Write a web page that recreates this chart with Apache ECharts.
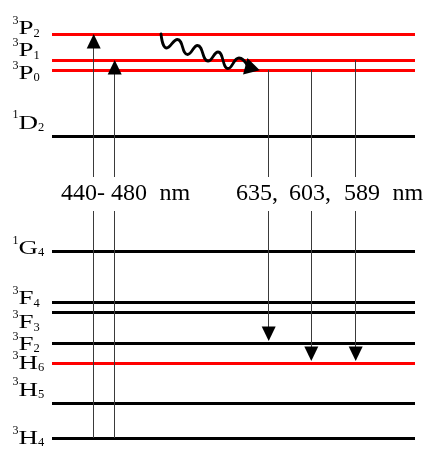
<!DOCTYPE html>
<html><head><meta charset="utf-8">
<script src="https://cdn.jsdelivr.net/npm/echarts@6/dist/echarts.min.js"></script>
<style>html,body{margin:0;padding:0;background:#fff}#c{width:427px;height:452px}</style>
</head><body><div id="c"></div>
<script>
// ---------- DATA (diagram energy units, 3H4 = 0) ----------
const levelTerms  = ['3H4','3H5','3H6','3F2','3F3','3F4','1G4','1D2','3P0','3P1','3P2'];
const levelMult   = ['3','3','3','3','3','3','1','1','3','3','3'];
const levelLetter = ['H','H','H','F','F','F','G','D','P','P','P'];
const levelJ      = ['4','5','6','2','3','4','4','2','0','1','2'];
const levelEnergy = [0, 35, 75, 95, 126, 136, 187, 302, 368, 378, 404];
const redLevels   = ['3H6','3P0','3P1','3P2'];

const absorptions = [['3H4','3P2'], ['3H4','3P1']];
const emissions   = [['3P0','3F2'], ['3P0','3H6'], ['3P1','3H6']];
const absorptionWords = ['440-', '480', 'nm'];
const emissionWords   = ['635,', '603,', '589', 'nm'];

// non-radiative relaxation (wavy arrow) path
const relaxX = [161, 166.7, 177.5, 187.5, 197.5, 208, 218, 228, 239, 248];
const relaxY = [404, 390, 398.5, 383.5, 392.5, 377, 386, 369.5, 380, 371.5];

// ---------- LAYOUT / STYLE ----------
const LX0 = 52, LX1 = 415;
const gapLow = 227, gapHigh = 261;
const absX = [93.7, 114.7];
const emiX = [268.7, 311.3, 355.7];
const headW = 14, headH = 14.5;
const emiTipOffset = 2;
const labelX = 12.5;
const labelDy = [1.2, -12.2, 1.2, 2.3, 11.6, -2.5, -2.1, -12.2, 4.3, -8.3, -4.5];
const absWordX = [61, 111, 159.5];
const emiWordX = [236, 289, 344, 392.5];
const relaxHead = {x: 252.5, y: 369.8, rot: -105};
const FAMILY = 'Liberation Serif';
const letterScale = 1.5;

const E = {};
levelTerms.forEach((t, i) => E[t] = levelEnergy[i]);

const levelLines = levelTerms.map((t, i) => ({
  coords: [[LX0, levelEnergy[i]], [LX1, levelEnergy[i]]],
  lineStyle: {color: redLevels.includes(t) ? '#ff0000' : '#000000'}
}));

function shaft(x, a, b) {
  const lo = Math.min(a, b), hi = Math.max(a, b), segs = [];
  if (lo < gapLow) segs.push({coords: [[x, lo], [x, Math.min(hi, gapLow)]]});
  if (hi > gapHigh) segs.push({coords: [[x, Math.max(lo, gapHigh)], [x, hi]]});
  return segs;
}
let shafts = [];
const upHeads = [], downHeads = [];
absorptions.forEach((tr, i) => {
  const tip = E[tr[1]];
  shafts = shafts.concat(shaft(absX[i], E[tr[0]], tip - headH / 2));
  upHeads.push([absX[i], tip - headH / 2]);
});
emissions.forEach((tr, i) => {
  const tip = E[tr[1]] + emiTipOffset;
  shafts = shafts.concat(shaft(emiX[i], E[tr[0]], tip + headH / 2));
  downHeads.push([emiX[i], tip + headH / 2]);
});

const chart = echarts.init(document.getElementById('c'), null, {renderer: 'canvas'});
chart.setOption({
  animation: false,
  backgroundColor: '#ffffff',
  grid: {left: 0, right: 0, top: 0, bottom: 0},
  xAxis: {type: 'value', min: 0, max: 427, show: false},
  yAxis: {type: 'value', min: -14, max: 438, show: false},
  series: [
    {type: 'lines', coordinateSystem: 'cartesian2d', silent: true, z: 2,
     lineStyle: {width: 3, opacity: 1}, data: levelLines},
    {type: 'lines', coordinateSystem: 'cartesian2d', silent: true, z: 3,
     lineStyle: {width: 1, color: '#3a3a3a', opacity: 1}, data: shafts},
    {type: 'scatter', silent: true, z: 4, symbol: 'triangle', symbolSize: [headW, headH],
     itemStyle: {color: '#000', opacity: 1}, data: upHeads},
    {type: 'scatter', silent: true, z: 4, symbol: 'triangle', symbolSize: [headW, headH],
     symbolRotate: 180, itemStyle: {color: '#000', opacity: 1}, data: downHeads},
    {type: 'line', silent: true, z: 4, smooth: 0.5, symbol: 'none',
     lineStyle: {width: 2.8, color: '#000', cap: 'round', join: 'round'},
     data: relaxX.map((x, i) => [x, relaxY[i]])},
    {type: 'scatter', silent: true, z: 5, symbol: 'triangle', symbolSize: [17, 15],
     symbolRotate: relaxHead.rot, itemStyle: {color: '#000', opacity: 1},
     data: [[relaxHead.x, relaxHead.y]]}
  ]
});

// ---------- text (positions through the chart's own axes) ----------
const ctx = document.createElement('canvas').getContext('2d');
function measure(t, size) { ctx.font = size + 'px "' + FAMILY + '"'; return ctx.measureText(t).width; }
function txt(x, y, text, size, extra) {
  return Object.assign({type: 'text', x: x, y: y, silent: true,
    style: {text: text, fontSize: size, fontFamily: FAMILY, fill: '#000',
            align: 'left', verticalAlign: 'middle'}}, extra || {});
}
const graphics = [];
levelTerms.forEach((t, i) => {
  const p = chart.convertToPixel({gridIndex: 0}, [labelX, levelEnergy[i]]);
  const cy = p[1] + labelDy[i];
  const x0 = p[0];
  const supW = measure(levelMult[i], 12);
  const letW = measure(levelLetter[i], 18) * letterScale;
  graphics.push(txt(x0, cy - 8.5, levelMult[i], 12));
  graphics.push(txt(x0 + supW, cy, levelLetter[i], 18, {scaleX: letterScale}));
  graphics.push(txt(x0 + supW + letW, cy + 3.8, levelJ[i], 12.5));
});
const midY = (gapLow + gapHigh) / 2;
absorptionWords.forEach((w, i) => {
  const p = chart.convertToPixel({gridIndex: 0}, [absWordX[i], midY]);
  graphics.push(txt(p[0], p[1], w, 24));
});
emissionWords.forEach((w, i) => {
  const p = chart.convertToPixel({gridIndex: 0}, [emiWordX[i], midY]);
  graphics.push(txt(p[0], p[1], w, 24));
});
chart.setOption({graphic: graphics});
</script></body></html>
